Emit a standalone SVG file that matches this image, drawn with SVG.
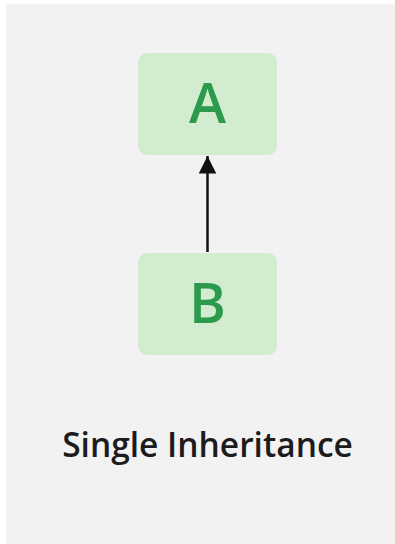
<svg xmlns="http://www.w3.org/2000/svg" width="395" height="544" viewBox="0 0 395 544">
<defs>
<style>
.node rect{fill:#d3ecd0;}
.node text{font-family:"Open Sans","Noto Sans",sans-serif;font-weight:600;font-size:56px;fill:#2b9a4c;text-anchor:middle;}
.title{font-family:"Open Sans","Noto Sans",sans-serif;font-weight:600;font-size:33.5px;fill:#1c1c1c;text-anchor:middle;}
.edge{stroke:#111;stroke-width:2.5;fill:none;}
</style>
<marker id="arrow" viewBox="0 0 10 10" refX="10" refY="5" markerWidth="7" markerHeight="7" orient="auto" markerUnits="strokeWidth">
<path d="M0,0 L10,5 L0,10 z" fill="#111"/>
</marker>
</defs>
<rect x="0" y="0" width="395" height="544" fill="#ffffff"/>
<rect x="6" y="4" width="389" height="540" fill="#f2f2f2"/>
<g id="connectors">
<line class="edge" x1="207.5" y1="252" x2="207.5" y2="156" marker-end="url(#arrow)"/>
</g>
<g id="nodeA" class="node">
<rect x="138" y="53" width="139" height="102" rx="9"/>
<text x="207.5" y="123">A</text>
</g>
<g id="nodeB" class="node">
<rect x="138" y="253" width="139" height="102" rx="9"/>
<text x="207.5" y="323">B</text>
</g>
<text class="title" x="207.5" y="457">Single Inheritance</text>
</svg>
